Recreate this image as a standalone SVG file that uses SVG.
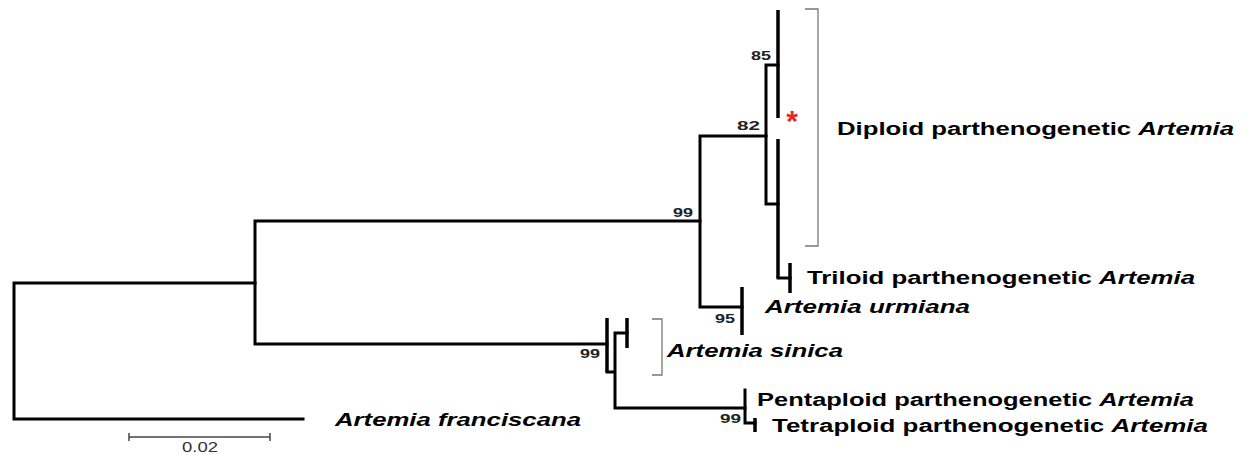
<svg xmlns="http://www.w3.org/2000/svg" width="1250" height="455" viewBox="0 0 1250 455">
<style>
.br{fill:none;stroke:#000;stroke-width:3;stroke-linecap:square;stroke-linejoin:miter}
.bar{fill:none;stroke:#000;stroke-width:3.5}
.bk{fill:none;stroke:#777;stroke-width:1.3}
.lab{font-family:"Liberation Sans",Arial,sans-serif;font-weight:bold;font-size:18px;fill:#000}
.it{font-style:italic}
.bs{font-family:"Liberation Sans",Arial,sans-serif;font-weight:bold;font-size:13px;fill:#222}
.sc{font-family:"Liberation Sans",Arial,sans-serif;font-size:14px;fill:#333}
</style>
<rect width="1250" height="455" fill="#fff"/>
<g id="connectors">
<path class="br" d="M14,283 V419 M14,283 H255 M14,419 H303"/>
<path class="br" d="M255,221 V344 M255,221 H700 M255,344 H607"/>
<path class="br" d="M700,136 V307 M700,136 H766 M700,307 H742"/>
<path class="br" d="M766,65 V204 M766,65 H778 M766,204 H778"/>
<path class="br" d="M778,278 H790"/>
<path class="br" d="M607,372 H615 M615,333 V408 M615,333 H627 M615,408 H745"/>
<path class="br" d="M745,390 V423 H755"/>
</g>
<g id="node-diploid">
<line class="bar" x1="778" y1="10" x2="778" y2="118"/>
<line class="bar" x1="778" y1="139" x2="778" y2="278"/>
<text x="792" y="131" font-family="Liberation Sans,sans-serif" font-size="30" font-weight="bold" fill="#e8242c" text-anchor="middle">*</text>
<path class="bk" d="M805,9 H818 V246 H805"/>
<text class="lab" x="837" y="135" textLength="397" lengthAdjust="spacingAndGlyphs">Diploid parthenogenetic <tspan class="it">Artemia</tspan></text>
</g>
<g id="node-triploid">
<line class="bar" x1="790" y1="263" x2="790" y2="293"/>
<text class="lab" x="807" y="284" textLength="388" lengthAdjust="spacingAndGlyphs">Triloid parthenogenetic <tspan class="it">Artemia</tspan></text>
</g>
<g id="node-urmiana">
<line class="bar" x1="742" y1="287" x2="742" y2="335"/>
<text class="lab it" x="765" y="313" textLength="205" lengthAdjust="spacingAndGlyphs">Artemia urmiana</text>
</g>
<g id="node-sinica">
<line class="bar" x1="607" y1="318" x2="607" y2="372"/>
<line class="bar" x1="627" y1="318" x2="627" y2="348"/>
<path class="bk" d="M652,319 H662 V375 H652"/>
<text class="lab it" x="667" y="357" textLength="176" lengthAdjust="spacingAndGlyphs">Artemia sinica</text>
</g>
<g id="node-pentaploid">
<text class="lab" x="757" y="406" textLength="437" lengthAdjust="spacingAndGlyphs">Pentaploid parthenogenetic <tspan class="it">Artemia</tspan></text>
</g>
<g id="node-tetraploid">
<line class="bar" x1="755" y1="418" x2="755" y2="432"/>
<text class="lab" x="772" y="432" textLength="436" lengthAdjust="spacingAndGlyphs">Tetraploid parthenogenetic <tspan class="it">Artemia</tspan></text>
</g>
<g id="node-franciscana">
<text class="lab it" x="335" y="426" textLength="246" lengthAdjust="spacingAndGlyphs">Artemia franciscana</text>
</g>
<g id="bootstrap">
<text class="bs" x="751" y="60" textLength="20" lengthAdjust="spacingAndGlyphs">85</text>
<text class="bs" x="737" y="130" textLength="23" lengthAdjust="spacingAndGlyphs">82</text>
<text class="bs" x="673" y="217" textLength="20" lengthAdjust="spacingAndGlyphs">99</text>
<text class="bs" x="715" y="323" textLength="20" lengthAdjust="spacingAndGlyphs">95</text>
<text class="bs" x="580" y="358" textLength="20" lengthAdjust="spacingAndGlyphs">99</text>
<text class="bs" x="720" y="423" textLength="21" lengthAdjust="spacingAndGlyphs">99</text>
</g>
<g id="scale">
<path d="M129,437 H270 M129,433 V441 M270,433 V441" fill="none" stroke="#444" stroke-width="1.5"/>
<text class="sc" x="182" y="452" textLength="36" lengthAdjust="spacingAndGlyphs">0.02</text>
</g>
</svg>
